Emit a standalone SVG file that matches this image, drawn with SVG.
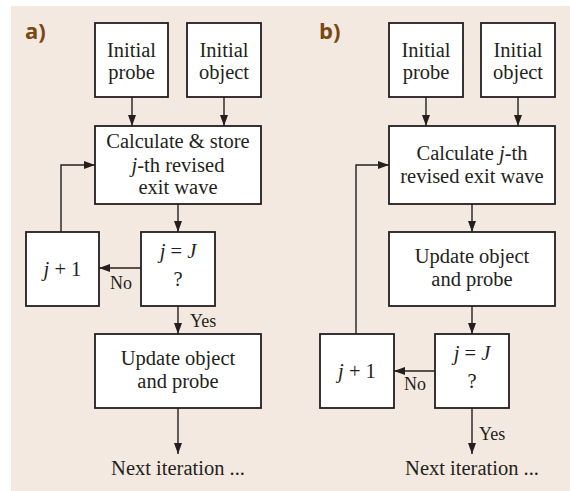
<svg xmlns="http://www.w3.org/2000/svg" width="570" height="491" viewBox="0 0 570 491">
<style>
.bg{fill:#f4e9e0}
.box{fill:#ffffff;stroke:#231f20;stroke-width:1.8}
.ln{fill:none;stroke:#231f20;stroke-width:1.4}
.t{font-family:'Liberation Serif','DejaVu Serif','Times New Roman',serif;font-size:20.5px;fill:#231f20;text-anchor:middle}
.s{font-family:'Liberation Serif','DejaVu Serif','Times New Roman',serif;font-size:18px;fill:#231f20}
.lab{font-family:'Open Sans','DejaVu Sans',sans-serif;font-weight:bold;font-size:22px;fill:#7a4712}
.i{font-style:italic}
</style>
<defs>
<marker id="ah" markerWidth="12" markerHeight="10" refX="11" refY="4" orient="auto" markerUnits="userSpaceOnUse">
<path d="M0,0 L11,4 L0,8 z" fill="#231f20"/>
</marker>
</defs>
<rect class="bg" x="11" y="6" width="559" height="485"/>
<text class="lab" x="25" y="39">a)</text>
<text class="lab" x="319" y="39">b)</text>

<g id="connectors">
<line class="ln" x1="132" y1="97" x2="132" y2="126" marker-end="url(#ah)"/>
<line class="ln" x1="224" y1="97" x2="224" y2="126" marker-end="url(#ah)"/>
<line class="ln" x1="178" y1="204" x2="178" y2="232" marker-end="url(#ah)"/>
<polyline class="ln" points="61,232 61,165 95,165" marker-end="url(#ah)"/>
<line class="ln" x1="141" y1="268" x2="99" y2="268" marker-end="url(#ah)"/>
<line class="ln" x1="178" y1="306" x2="178" y2="334" marker-end="url(#ah)"/>
<line class="ln" x1="178" y1="408" x2="178" y2="454" marker-end="url(#ah)"/>
<text class="s" x="110" y="289">No</text>
<text class="s" x="190" y="327">Yes</text>

<line class="ln" x1="426" y1="97" x2="426" y2="126" marker-end="url(#ah)"/>
<line class="ln" x1="518" y1="97" x2="518" y2="126" marker-end="url(#ah)"/>
<line class="ln" x1="472" y1="204" x2="472" y2="232" marker-end="url(#ah)"/>
<line class="ln" x1="472" y1="306" x2="472" y2="334" marker-end="url(#ah)"/>
<polyline class="ln" points="356,334 356,165 389,165" marker-end="url(#ah)"/>
<line class="ln" x1="435" y1="371" x2="394" y2="371" marker-end="url(#ah)"/>
<line class="ln" x1="472" y1="408" x2="472" y2="454" marker-end="url(#ah)"/>
<text class="s" x="404" y="390">No</text>
<text class="s" x="479" y="440">Yes</text>
</g>

<g id="a-probe"><rect class="box" x="95" y="23" width="73" height="74"/>
<text class="t" x="131.5" y="57">Initial</text><text class="t" x="131.5" y="78.5">probe</text></g>
<g id="a-object"><rect class="box" x="187" y="23" width="74" height="74"/>
<text class="t" x="224" y="57">Initial</text><text class="t" x="224" y="78.5">object</text></g>
<g id="a-calc"><rect class="box" x="95" y="126" width="166" height="78"/>
<text class="t" x="178" y="148">Calculate &amp; store</text>
<text class="t" x="178" y="171.5"><tspan class="i">j</tspan>-th revised</text>
<text class="t" x="178" y="194">exit wave</text></g>
<g id="a-jplus"><rect class="box" x="26" y="232" width="73" height="74"/>
<text class="t" x="62.5" y="276"><tspan class="i">j</tspan> + 1</text></g>
<g id="a-check"><rect class="box" x="141" y="232" width="74" height="74"/>
<text class="t" x="178" y="258"><tspan class="i">j</tspan> = <tspan class="i">J</tspan></text>
<text class="t" x="178" y="286">?</text></g>
<g id="a-update"><rect class="box" x="95" y="334" width="166" height="74"/>
<text class="t" x="178" y="365">Update object</text>
<text class="t" x="178" y="388">and probe</text></g>
<g id="a-next"><text class="t" x="178" y="475">Next iteration ...</text></g>

<g id="b-probe"><rect class="box" x="389" y="23" width="74" height="74"/>
<text class="t" x="426" y="57">Initial</text><text class="t" x="426" y="78.5">probe</text></g>
<g id="b-object"><rect class="box" x="481" y="23" width="74" height="74"/>
<text class="t" x="518" y="57">Initial</text><text class="t" x="518" y="78.5">object</text></g>
<g id="b-calc"><rect class="box" x="389" y="126" width="166" height="78"/>
<text class="t" x="472" y="160">Calculate <tspan class="i">j</tspan>-th</text>
<text class="t" x="472" y="183">revised exit wave</text></g>
<g id="b-update"><rect class="box" x="389" y="232" width="166" height="74"/>
<text class="t" x="472" y="263">Update object</text>
<text class="t" x="472" y="286">and probe</text></g>
<g id="b-jplus"><rect class="box" x="320" y="334" width="74" height="74"/>
<text class="t" x="357" y="378"><tspan class="i">j</tspan> + 1</text></g>
<g id="b-check"><rect class="box" x="435" y="334" width="74" height="74"/>
<text class="t" x="472" y="360"><tspan class="i">j</tspan> = <tspan class="i">J</tspan></text>
<text class="t" x="472" y="388">?</text></g>
<g id="b-next"><text class="t" x="472" y="475">Next iteration ...</text></g>
</svg>
